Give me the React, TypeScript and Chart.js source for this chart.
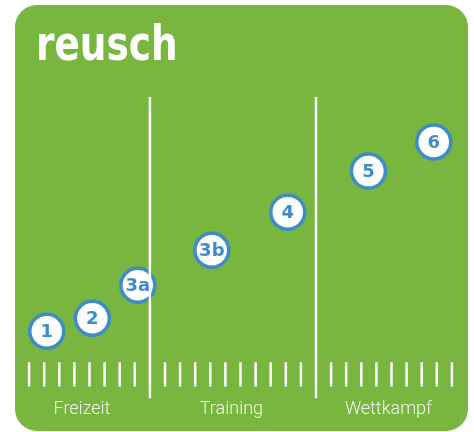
import React, { useEffect, useRef } from "react";
import { Chart, registerables } from "chart.js";

Chart.register(...registerables);

// ---- data ----
const categories = ["Freizeit", "Training", "Wettkampf"];
const categoryCenters = [3.5, 13.4, 23.8];
const pointLabels = ["1", "2", "3a", "3b", "4", "5", "6"];
const pointX = [1.17, 4.19, 7.2, 12.1, 17.13, 22.47, 26.8];
const pointY = [67, 80, 113, 148, 186, 227, 256];
const dividerX = [8, 19];
const tickSlots = [
  0, 1, 2, 3, 4, 5, 6, 7,
  9, 10, 11, 12, 13, 14, 15, 16, 17, 18,
  20, 21, 22, 23, 24, 25, 26, 27, 28,
];
const tickRange = [12, 36];
const dividerRange = [0, 301];
const brand = "reusch";

const GREEN = "#78b640";
const BLUE = "#3d8bc9";

const backgroundPlugin = {
  id: "panel",
  beforeDraw(chart: any) {
    const ctx = chart.ctx;
    ctx.save();
    ctx.fillStyle = "#ffffff";
    ctx.fillRect(0, 0, chart.width, chart.height);
    ctx.fillStyle = GREEN;
    ctx.beginPath();
    (ctx as any).roundRect(15, 5, 453, 426, 22);
    ctx.fill();
    // logo
    ctx.fillStyle = "#ffffff";
    ctx.font = "bold 48px 'DejaVu Sans'";
    ctx.textBaseline = "alphabetic";
    ctx.textAlign = "left";
    ctx.translate(36, 60);
    ctx.scale(0.78, 1);
    ctx.fillText(brand, 0, 0);
    ctx.restore();
  },
};

const labelPlugin = {
  id: "pointLabels",
  afterDatasetsDraw(chart: any) {
    const meta = chart.getDatasetMeta(2);
    const ctx = chart.ctx;
    ctx.save();
    ctx.fillStyle = BLUE;
    ctx.font = "bold 18px 'DejaVu Sans'";
    ctx.textAlign = "center";
    ctx.textBaseline = "middle";
    meta.data.forEach((el: any, i: number) => {
      ctx.fillText(pointLabels[i], el.x, el.y + 1);
    });
    ctx.restore();
  },
};

export default function App() {
  const ref = useRef<HTMLCanvasElement | null>(null);
  useEffect(() => {
    if (!ref.current) return;
    const tickData: any[] = [];
    tickSlots.forEach((s) => {
      tickData.push({ x: s, y: tickRange[0] });
      tickData.push({ x: s, y: tickRange[1] });
      tickData.push({ x: s, y: null });
    });
    const divData: any[] = [];
    dividerX.forEach((s) => {
      divData.push({ x: s, y: dividerRange[0] });
      divData.push({ x: s, y: dividerRange[1] });
      divData.push({ x: s, y: null });
    });
    const chart = new Chart(ref.current, {
      type: "scatter",
      data: {
        datasets: [
          {
            data: tickData,
            showLine: true,
            spanGaps: false,
            borderColor: "#ffffff",
            borderWidth: 2.5,
            pointRadius: 0,
            borderCapStyle: "butt",
          } as any,
          {
            data: divData,
            showLine: true,
            spanGaps: false,
            borderColor: "#ffffff",
            borderWidth: 2.5,
            pointRadius: 0,
            borderCapStyle: "butt",
          } as any,
          {
            data: pointX.map((x, i) => ({ x, y: pointY[i] })),
            pointRadius: 17,
            pointBorderWidth: 3.5,
            pointBackgroundColor: "#ffffff",
            pointBorderColor: BLUE,
            pointHoverRadius: 17,
            clip: false,
          } as any,
        ],
      },
      options: {
        animation: false,
        responsive: false,
        maintainAspectRatio: false,
        layout: { autoPadding: false, padding: { left: 14, right: 7, top: 97, bottom: 12 } },
        plugins: {
          legend: { display: false },
          tooltip: { enabled: false },
          title: { display: false },
        },
        scales: {
          x: {
            type: "linear",
            min: -1,
            max: 29,
            grid: { display: false, drawTicks: false },
            border: { display: false },
            afterBuildTicks: (axis: any) => {
              axis.ticks = categoryCenters.map((v) => ({ value: v }));
            },
            ticks: {
              padding: 0,
              color: "rgba(245,250,240,0.97)",
              font: { family: "Roboto", size: 18, weight: "300" },
              autoSkip: false,
              maxRotation: 0,
              callback: (v: any) => {
                const idx = categoryCenters.indexOf(Number(v));
                return idx >= 0 ? categories[idx] : "";
              },
            },
          },
          y: {
            type: "linear",
            min: 0,
            max: 301,
            display: false,
          },
        },
      },
      plugins: [backgroundPlugin, labelPlugin],
    });
    return () => chart.destroy();
  }, []);
  return (
    <div style={{ position: "fixed", left: 0, top: 0, width: 474, height: 432 }}>
      <canvas ref={ref} width={474} height={432} style={{ width: 474, height: 432 }} />
    </div>
  );
}
